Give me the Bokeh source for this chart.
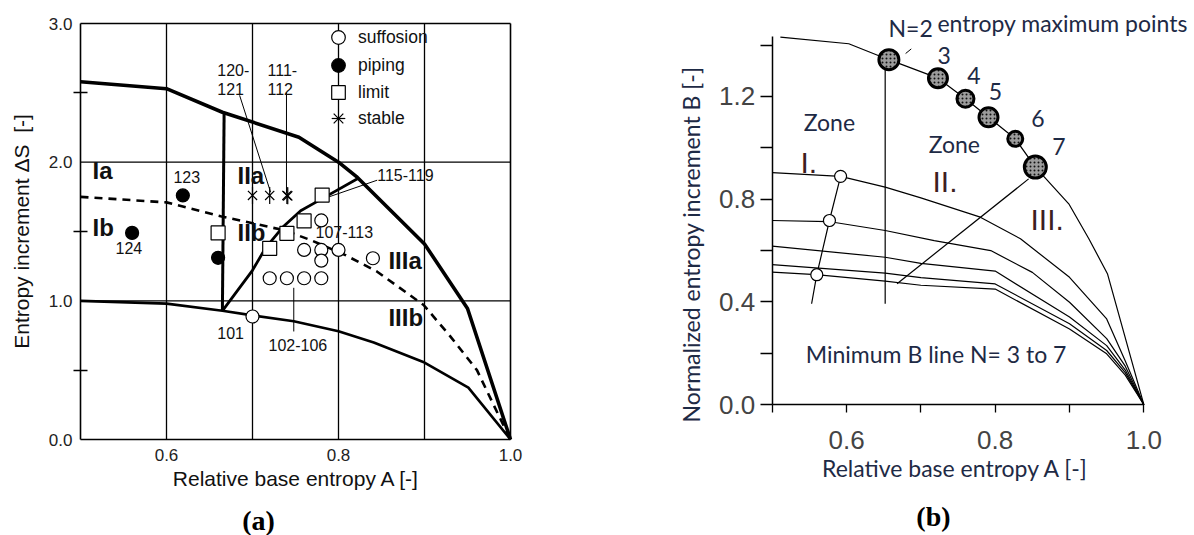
import math
from bokeh.plotting import figure
from bokeh.layouts import row
from bokeh.models import Range1d, FixedTicker, Legend, LegendItem, PrintfTickFormatter
from bokeh.core.properties import value
from bokeh.embed import file_html
from bokeh.resources import INLINE

# ---------------- panel (a) data ----------------
A_upper = [0.5, 0.6, 0.665, 0.754, 0.8, 0.822, 0.9, 0.95, 1.0]
S_upper = [2.58, 2.53, 2.36, 2.18, 2.0, 1.89, 1.41, 0.945, 0.0]
A_lower = [0.5, 0.6, 0.665, 0.7, 0.748, 0.8, 0.841, 0.9, 0.951, 1.0]
S_lower = [1.0, 0.98, 0.928, 0.895, 0.853, 0.78, 0.70, 0.555, 0.374, 0.0]
A_vert = [0.667, 0.665]
S_vert = [2.36, 0.928]
A_zone = [0.665, 0.7, 0.715, 0.735, 0.756, 0.779, 0.822]
S_zone = [0.928, 1.22, 1.38, 1.53, 1.65, 1.73, 1.88]
A_dash = [0.5, 0.6, 0.663, 0.736, 0.767, 0.808, 0.845, 0.899, 0.93, 0.961, 0.985, 1.0]
S_dash = [1.75, 1.71, 1.61, 1.51, 1.44, 1.33, 1.21, 0.97, 0.744, 0.50, 0.19, 0.0]

A_suff = [0.780, 0.760, 0.780, 0.800, 0.780, 0.840, 0.720, 0.740, 0.760, 0.780, 0.700]
S_suff = [1.58, 1.367, 1.367, 1.367, 1.29, 1.307, 1.163, 1.163, 1.163, 1.163, 0.887]
A_pip = [0.619, 0.56, 0.66]
S_pip = [1.76, 1.49, 1.31]
A_lim = [0.66, 0.72, 0.740, 0.760, 0.781]
S_lim = [1.49, 1.379, 1.487, 1.576, 1.763]
A_stab = [0.70, 0.72, 0.74, 0.741]
S_stab = [1.76, 1.76, 1.76, 1.757]

num_text = ["123", "124", "120-", "121", "111-", "112", "115-119", "107-113", "101", "102-106"]
zone_text = ["Ia", "Ib", "IIa", "IIb", "IIIa", "IIIb"]
x_range_a = (0.5, 1.0)
y_range_a = (0.0, 3.0)
x_ticks_a = [0.6, 0.8, 1.0]
y_ticks_a = [0.0, 1.0, 2.0, 3.0]
y_minor_a = [0.5, 1.5, 2.5]
x_grid_a = [0.6, 0.7, 0.8, 0.9]
y_grid_a = [1.0, 2.0]

# ---------------- panel (b) data ----------------
A_env = [0.511, 0.603, 0.657, 0.723, 0.760, 0.791, 0.827, 0.854, 0.899, 0.926, 0.951, 1.0]
B_env = [1.431, 1.405, 1.343, 1.271, 1.191, 1.119, 1.035, 0.925, 0.782, 0.646, 0.51, 0.0]
N_labels = ["N=2", "3", "4", "5", "6", "7"]
A_N = [0.657, 0.723, 0.760, 0.791, 0.827, 0.854]
B_N = [1.343, 1.271, 1.191, 1.119, 1.035, 0.925]

A_c1 = [0.5, 0.592, 0.652, 0.7, 0.78, 0.834, 0.9, 0.95, 0.975, 1.0]
B_c1 = [0.903, 0.889, 0.847, 0.805, 0.730, 0.646, 0.496, 0.334, 0.17, 0.0]
A_c2 = [0.5, 0.576, 0.652, 0.718, 0.794, 0.85, 0.9, 0.95, 0.975, 1.0]
B_c2 = [0.717, 0.713, 0.678, 0.639, 0.600, 0.515, 0.399, 0.257, 0.15, 0.0]
A_c3 = [0.5, 0.652, 0.7, 0.8, 0.9, 0.95, 0.975, 1.0]
B_c3 = [0.617, 0.574, 0.55, 0.52, 0.341, 0.230, 0.135, 0.0]
A_c4 = [0.5, 0.652, 0.7, 0.8, 0.9, 0.95, 0.975, 1.0]
B_c4 = [0.545, 0.512, 0.495, 0.47, 0.315, 0.211, 0.125, 0.0]
A_c5 = [0.5, 0.559, 0.652, 0.7, 0.8, 0.9, 0.95, 0.975, 1.0]
B_c5 = [0.516, 0.506, 0.481, 0.465, 0.45, 0.295, 0.198, 0.115, 0.0]

A_minB = [0.592, 0.577, 0.560, 0.553]
B_minB = [0.889, 0.717, 0.506, 0.393]
A_minB_pts = [0.592, 0.577, 0.560]
B_minB_pts = [0.889, 0.717, 0.506]
A_v2 = [0.652, 0.652]
B_v2 = [1.335, 0.393]
A_diag = [0.845, 0.668]
B_diag = [0.879, 0.471]
x_ticks_b = [0.6, 0.8, 1.0]
x_minor_b = [0.5, 0.7, 0.9]
y_ticks_b = [0.0, 0.4, 0.8, 1.2]
y_minor_b = [0.2, 0.6, 1.0, 1.4]

# ---------------- annotation placement (layout, not data) ----------------
num_A = [0.608, 0.5407, 0.659, 0.659, 0.7174, 0.7174, 0.845, 0.7733, 0.659, 0.7186]
num_S = [1.892, 1.378, 2.662, 2.525, 2.662, 2.525, 1.906, 1.50, 0.766, 0.680]
zone_A = [0.514, 0.514, 0.6826, 0.6826, 0.858, 0.858]
zone_S = [1.943, 1.532, 1.906, 1.493, 1.288, 0.878]
lead_A = [[0.685, 0.721], [0.7395, 0.7395], [0.845, 0.789], [0.748, 0.748]]
lead_S = [[2.482, 1.784], [2.504, 1.777], [1.870, 1.750], [1.094, 0.779]]
lead2_A = [0.6795, 0.6871]
lead2_B = [1.367, 1.385]
N_lab_A = [0.6565, 0.7225, 0.7625, 0.7915, 0.8485, 0.8768]
N_lab_B = [1.466, 1.359, 1.281, 1.219, 1.114, 1.005]
N_size = [20, 19, 17, 19, 15, 22]

ARIAL = "Liberation Sans"
CAL = "Lato"
NAVY = "#1e2a45"

# ================= panel (a) =================
# frame covers the whole figure; axes are pinned at A=0.5 and S=0
p1 = figure(width=580, height=535, output_backend="svg", toolbar_location=None,
            x_range=Range1d(0.5 - 80 / 860, 0.5 + 500 / 860),
            y_range=Range1d(-96 / (416 / 3), 3 + 23 / (416 / 3)),
            min_border=0, min_border_left=0, min_border_right=0,
            min_border_top=0, min_border_bottom=0)
p1.outline_line_color = None
p1.background_fill_color = "white"
p1.border_fill_color = "white"
p1.xgrid.visible = False
p1.ygrid.visible = False

p1.xaxis.ticker = FixedTicker(ticks=x_ticks_a)
p1.yaxis.ticker = FixedTicker(ticks=y_ticks_a, minor_ticks=y_minor_a)
p1.xaxis.fixed_location = y_range_a[0]
p1.yaxis.fixed_location = x_range_a[0]
p1.xaxis.bounds = x_range_a
p1.yaxis.bounds = y_range_a
for ax in (p1.xaxis, p1.yaxis):
    ax.formatter = PrintfTickFormatter(format="%.1f")
    ax.axis_line_color = "black"
    ax.axis_line_width = 1.6
    ax.major_tick_in = 0
    ax.major_tick_out = 0
    ax.major_label_text_font = ARIAL
    ax.major_label_text_font_size = "17px"
    ax.major_label_text_color = "#222222"
p1.xaxis.minor_tick_line_color = None
p1.yaxis.minor_tick_in = 7
p1.yaxis.minor_tick_out = 7
p1.yaxis.minor_tick_line_color = "black"
p1.yaxis.minor_tick_line_width = 1.3
p1.xaxis.major_label_standoff = 9
p1.yaxis.major_label_standoff = 1

# grid lines (inside the box only) and the top/right edges of the box
p1.segment(x0=x_grid_a, y0=[y_range_a[0]] * len(x_grid_a), x1=x_grid_a,
           y1=[y_range_a[1]] * len(x_grid_a), line_color="black", line_width=1.3)
p1.segment(x0=[x_range_a[0]] * len(y_grid_a), y0=y_grid_a, x1=[x_range_a[1]] * len(y_grid_a),
           y1=y_grid_a, line_color="black", line_width=1.3)
p1.segment(x0=[x_range_a[0], x_range_a[1]], y0=[y_range_a[1], y_range_a[0]],
           x1=[x_range_a[1], x_range_a[1]], y1=[y_range_a[1], y_range_a[1]],
           line_color="black", line_width=1.6)

p1.line(A_upper, S_upper, line_color="black", line_width=3.6)
p1.line(A_lower, S_lower, line_color="black", line_width=2.6)
p1.line(A_vert, S_vert, line_color="black", line_width=3.0)
p1.line(A_zone, S_zone, line_color="black", line_width=2.8)
p1.line(A_dash, S_dash, line_color="black", line_width=2.6, line_dash="8 6")
p1.multi_line(lead_A, lead_S, line_color="black", line_width=1.0)

r_suff = p1.scatter(A_suff, S_suff, marker="circle", size=13, fill_color="white",
                    line_color="black", line_width=1.2)
r_pip = p1.scatter(A_pip, S_pip, marker="circle", size=13, fill_color="black",
                   line_color="black", line_width=1.2)
r_lim = p1.scatter(A_lim, S_lim, marker="square", size=14, fill_color="white",
                   line_color="black", line_width=1.2)
r_st1 = p1.scatter(A_stab, S_stab, marker="x", size=13, line_color="black", line_width=1.2)
r_st2 = p1.scatter(A_stab, S_stab, marker="dash", size=17, angle=math.pi / 2,
                   line_color="black", line_width=1.2)

p1.text(num_A, num_S, text=num_text, text_font=value(ARIAL), text_font_size="16px",
        text_color="#111111", text_align="left", text_baseline="middle")
p1.text(zone_A, zone_S, text=zone_text, text_font=value(ARIAL), text_font_size="24px",
        text_font_style="bold", text_color="#111111", text_align="left", text_baseline="middle")

# axis titles and caption of panel (a)
p1.text([0.7512], [-0.2812], text=["Relative base entropy A [-]"], text_font=value(ARIAL),
        text_font_size="21px", text_color="#111111", text_align="center", text_baseline="middle")
p1.text([0.4314], [1.5], text=["Entropy increment \u0394S\u00a0 [-]"], text_font=value(ARIAL),
        text_font_size="21px", text_color="#111111", text_align="center", text_baseline="middle",
        angle=math.pi / 2)
p1.text([0.707], [-0.584], text=["(a)"], text_font=value("Liberation Serif"),
        text_font_size="28px", text_font_style="bold", text_color="black",
        text_align="center", text_baseline="middle")

leg_items = [("suffosion", [r_suff]), ("piping", [r_pip]), ("limit", [r_lim]),
             ("stable", [r_st1, r_st2])]
leg_centres = [37, 65, 92, 118]
for (lab, rends), yc in zip(leg_items, leg_centres):
    p1.add_layout(Legend(items=[LegendItem(label=lab, renderers=rends)],
                         location=(321, 535 - (yc + 17)), glyph_width=34, glyph_height=34,
                         padding=0, margin=0, label_standoff=3, label_height=20,
                         label_text_font=ARIAL, label_text_font_size="17.5px",
                         label_text_color="#111111", background_fill_alpha=0.0,
                         border_line_color=None))

# ================= panel (b) =================
p2 = figure(width=614, height=535, output_backend="svg", toolbar_location=None,
            x_range=Range1d(0.5 - 191.7 / 743.3, 0.5 + 422.3 / 743.3),
            y_range=Range1d(-130.8 / 256.9, 404.2 / 256.9),
            min_border=0, min_border_left=0, min_border_right=0,
            min_border_top=0, min_border_bottom=0)
p2.outline_line_color = None
p2.xgrid.visible = False
p2.ygrid.visible = False
p2.background_fill_color = "white"
p2.border_fill_color = "white"

p2.xaxis.ticker = FixedTicker(ticks=x_ticks_b, minor_ticks=x_minor_b)
p2.yaxis.ticker = FixedTicker(ticks=y_ticks_b, minor_ticks=y_minor_b)
p2.xaxis.fixed_location = 0.0
p2.yaxis.fixed_location = 0.5
p2.xaxis.bounds = (0.5, 1.0)
p2.yaxis.bounds = (0.0, 1.433)
for ax in (p2.xaxis, p2.yaxis):
    ax.formatter = PrintfTickFormatter(format="%.1f")
    ax.axis_line_color = "black"
    ax.axis_line_width = 1.5
    ax.major_tick_in = 0
    ax.minor_tick_in = 0
    ax.major_tick_line_color = "black"
    ax.minor_tick_line_color = "black"
    ax.major_tick_line_width = 1.3
    ax.minor_tick_line_width = 1.3
    ax.major_label_text_font = ARIAL
    ax.major_label_text_font_size = "26px"
    ax.major_label_text_color = "#444444"
p2.xaxis.major_tick_out = 8
p2.xaxis.minor_tick_out = 8
p2.yaxis.major_tick_out = 12
p2.yaxis.minor_tick_out = 12
p2.xaxis.major_label_standoff = 18
p2.yaxis.major_label_standoff = 5

LW = 1.2
p2.line(A_env, B_env, line_color="black", line_width=LW)
for a_arr, b_arr in ((A_c1, B_c1), (A_c2, B_c2), (A_c3, B_c3), (A_c4, B_c4), (A_c5, B_c5)):
    p2.line(a_arr, b_arr, line_color="black", line_width=LW)
p2.line(A_minB, B_minB, line_color="black", line_width=LW)
p2.line(A_v2, B_v2, line_color="black", line_width=LW)
p2.line(A_diag, B_diag, line_color="black", line_width=LW)
p2.line(lead2_A, lead2_B, line_color="black", line_width=1.0)
p2.scatter(A_minB_pts, B_minB_pts, marker="circle", size=12, fill_color="white",
           line_color="black", line_width=1.2)
p2.scatter(A_N, B_N, marker="circle", size=N_size, fill_color="#9c9c9c",
           hatch_pattern="dot", hatch_color="#111111", hatch_scale=4, hatch_weight=1.2,
           line_color="black", line_width=3)

p2.text(N_lab_A, N_lab_B, text=N_labels, text_font=value(CAL), text_font_size="23px",
        text_color=NAVY, text_align="left", text_baseline="middle")
tb_text = ["entropy maximum points", "Zone", "Zone", "Minimum B line N= 3 to 7"]
tb_A = [0.7223, 0.5425, 0.7105, 0.5452]
tb_B = [1.484, 1.102, 1.015, 0.197]
p2.text(tb_A, tb_B, text=tb_text, text_font=value(CAL), text_font_size="23px",
        text_color=NAVY, text_align="left", text_baseline="middle")
rom_text = ["I.", "II.", "III."]
rom_A = [0.538, 0.7157, 0.8475]
rom_B = [0.943, 0.869, 0.719]
p2.text(rom_A, rom_B, text=rom_text, text_font=value(ARIAL),
        text_font_size="30px", text_color="#3d1f1f", text_align="left", text_baseline="middle")

# axis titles and caption of panel (b)
p2.text([0.7466], [-0.2464], text=["Relative base entropy A [-]"], text_font=value(CAL),
        text_font_size="23px", text_color=NAVY, text_align="center", text_baseline="middle")
p2.text([0.3901], [0.6236], text=["Normalized entropy increment B [-]"], text_font=value(CAL),
        text_font_size="23px", text_color=NAVY, text_align="center", text_baseline="middle",
        angle=math.pi / 2)
p2.text([0.7169], [-0.4352], text=["(b)"], text_font=value("Liberation Serif"),
        text_font_size="28px", text_font_style="bold", text_color="black",
        text_align="center", text_baseline="middle")

layout = row(p1, p2)
open("out.html", "w").write(file_html(layout, INLINE))
